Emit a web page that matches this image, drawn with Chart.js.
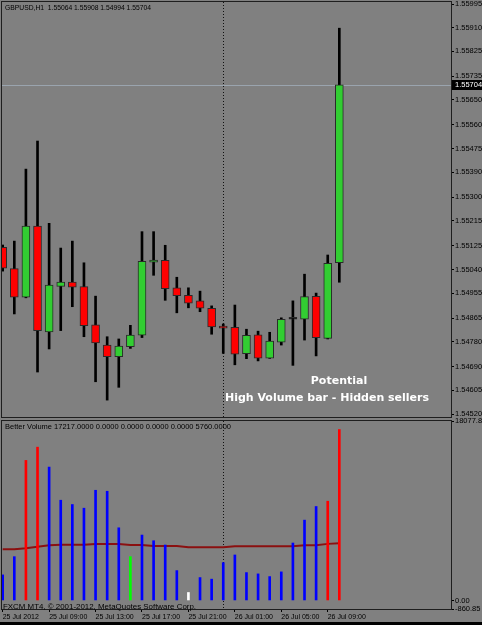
<!DOCTYPE html>
<html>
<head>
<meta charset="utf-8">
<script src="https://cdn.jsdelivr.net/npm/chart.js@4.4.1/dist/chart.umd.min.js"></script>
<style>
  html, body { margin: 0; padding: 0; background: #000; }
  #wrap { position: relative; width: 482px; height: 625px; background: #000; overflow: hidden; }
  #bg { position: absolute; left: 0; top: 0; width: 482px; height: 622px; background: #808080; }
  #priceBox { position: absolute; left: 0; top: 0; width: 482px; height: 419px; }
  #volBox { position: absolute; left: 0; top: 412px; width: 482px; height: 213px; }
</style>
</head>
<body>
<div id="wrap">
  <div id="bg"></div>
  <div id="priceBox"><canvas id="priceChart"></canvas></div>
  <div id="volBox"><canvas id="volumeChart"></canvas></div>
</div>
<script>
// ---- data (GBPUSD H1, 25 Jul 05:00 -> 26 Jul 10:00) ----
const symbol = "GBPUSD,H1";
const opens  = [1.55120, 1.55043, 1.54940, 1.55196, 1.54815, 1.54979, 1.54995, 1.54978, 1.54841, 1.54768,
                1.54726, 1.54762, 1.54804, 1.55066, 1.55073, 1.54974, 1.54947, 1.54927, 1.54900, 1.54831,
                1.54832, 1.54737, 1.54805, 1.54721, 1.54778, 1.54861, 1.54861, 1.54943, 1.54792, 1.55064];
const highs  = [1.55128, 1.55142, 1.55401, 1.55502, 1.55206, 1.55117, 1.55142, 1.55064, 1.54944, 1.54798,
                1.54790, 1.54839, 1.55176, 1.55176, 1.55127, 1.55012, 1.54974, 1.54962, 1.54909, 1.54844,
                1.54912, 1.54825, 1.54818, 1.54814, 1.54866, 1.54927, 1.55023, 1.54955, 1.55092, 1.55908];
const lows   = [1.55034, 1.54880, 1.54938, 1.54671, 1.54754, 1.54820, 1.54906, 1.54798, 1.54636, 1.54570,
                1.54616, 1.54756, 1.54795, 1.55019, 1.54929, 1.54884, 1.54902, 1.54888, 1.54807, 1.54738,
                1.54697, 1.54719, 1.54711, 1.54720, 1.54768, 1.54695, 1.54786, 1.54729, 1.54790, 1.54994];
const closes = [1.55045, 1.54940, 1.55196, 1.54820, 1.54984, 1.54995, 1.54976, 1.54838, 1.54776, 1.54726,
                1.54764, 1.54804, 1.55069, 1.55074, 1.54971, 1.54946, 1.54919, 1.54901, 1.54833, 1.54829,
                1.54735, 1.54803, 1.54721, 1.54782, 1.54861, 1.54861, 1.54942, 1.54795, 1.55062, 1.55704];

const volumes  = [2577, 4412, 14108, 15442, 13436, 10097, 9666, 9295, 11100, 11000,
                  7320, 4412, 6588, 6016, 5585, 3008, 802, 2306, 2146, 3810,
                  4582, 2808, 2677, 2406, 2878, 5786, 8092, 9466, 9997, 17217];
const volTypes = ["normal", "normal", "climax", "climax", "normal", "normal", "normal", "normal", "normal", "normal",
                  "normal", "churn", "normal", "normal", "normal", "normal", "low", "normal", "normal", "normal",
                  "normal", "normal", "normal", "normal", "normal", "normal", "normal", "normal", "climax", "climax"];
const volAverage = [5154, 5154, 5254, 5415, 5555, 5610, 5610, 5620, 5685, 5685,
                    5685, 5585, 5585, 5485, 5485, 5485, 5354, 5354, 5354, 5354,
                    5455, 5455, 5455, 5455, 5455, 5455, 5555, 5555, 5700, 5760];

const priceTicks  = [1.54520, 1.54605, 1.54690, 1.54780, 1.54865, 1.54955, 1.55040, 1.55125, 1.55215,
                     1.55300, 1.55390, 1.55475, 1.55560, 1.55650, 1.55735, 1.55825, 1.55910, 1.55995];
const volumeTicks = [-860.85, 0, 18077.85];
const timeTickBars = [0, 4, 8, 12, 16, 20, 24, 28];
const timeLabels   = ["25 Jul 2012", "25 Jul 09:00", "25 Jul 13:00", "25 Jul 17:00",
                      "25 Jul 21:00", "26 Jul 01:00", "26 Jul 05:00", "26 Jul 09:00"];
const daySeparatorBar = 19;

// ---- global style ----
Chart.defaults.font.family = "'Liberation Sans', Arial, sans-serif";
Chart.defaults.color = "#000";

const X_MIN = -0.06, X_MAX = 38.62;
const FRAME = "#1e1e1e";
const volColors = { normal: "#0000ff", climax: "#ff0000", churn: "#00ff00", low: "#ffffff" };

function fitText(ctx, text, x, y, w) {
    const m = ctx.measureText(text).width;
    ctx.save();
    ctx.translate(x, y);
    ctx.scale(w / m, 1);
    ctx.fillText(text, 0, 0);
    ctx.restore();
}

function noPad(scale) {
    scale.paddingTop = 0; scale.paddingBottom = 0;
    scale.paddingLeft = 0; scale.paddingRight = 0;
}

function drawFrame(chart) {
    const { ctx, chartArea: a } = chart;
    ctx.save();
    ctx.strokeStyle = FRAME;
    ctx.lineWidth = 1;
    ctx.strokeRect(a.left - 0.5, a.top - 0.5, a.right - a.left + 1, a.bottom - a.top + 1);
    ctx.restore();
}

function drawSeparator(chart) {
    const { ctx, chartArea: a } = chart;
    const sx = Math.round(chart.scales.x.getPixelForValue(daySeparatorBar)) + 0.5;
    ctx.save();
    ctx.strokeStyle = "#111";
    ctx.lineWidth = 1;
    ctx.setLineDash([1, 2]);
    ctx.beginPath();
    ctx.moveTo(sx, a.top);
    ctx.lineTo(sx, a.bottom);
    ctx.stroke();
    ctx.restore();
}

// ---- Price chart (candles from floating bars) ----
const last = closes.length - 1;
const bodyColors = opens.map((o, i) => closes[i] > o ? "#32cd32" : (closes[i] < o ? "#ff0000" : "#000000"));

const pricePlugin = {
    id: "priceDecor",
    beforeDatasetsDraw(chart) {
        const { ctx, chartArea: a, scales: { y } } = chart;
        const py = Math.round(y.getPixelForValue(closes[last])) + 0.5;
        ctx.save();
        ctx.strokeStyle = "#9aa4ae";
        ctx.lineWidth = 1;
        ctx.beginPath();
        ctx.moveTo(a.left, py);
        ctx.lineTo(a.right, py);
        ctx.stroke();
        ctx.restore();
        drawSeparator(chart);
    },
    afterDraw(chart) {
        const { ctx, chartArea: a, scales: { y } } = chart;
        drawFrame(chart);
        ctx.save();
        // header
        ctx.fillStyle = "#000";
        ctx.font = "8px 'Liberation Sans'";
        ctx.textBaseline = "alphabetic";
        const head = symbol + "  " + [opens[last], highs[last], lows[last], closes[last]].map(v => v.toFixed(5)).join(" ");
        fitText(ctx, head, a.left + 3, 10, 146);
        // current price box
        const py = Math.round(y.getPixelForValue(closes[last]));
        ctx.fillStyle = "#000";
        ctx.fillRect(a.right + 1, py - 5, 31, 10);
        ctx.fillStyle = "#fff";
        ctx.font = "7.5px 'Liberation Sans'";
        ctx.textBaseline = "middle";
        ctx.fillText(closes[last].toFixed(5), a.right + 4, py);
        // annotation
        ctx.fillStyle = "#fff";
        ctx.font = "bold 11px 'DejaVu Sans'";
        ctx.textAlign = "center";
        ctx.textBaseline = "alphabetic";
        ctx.fillText("Potential", 339, 384);
        ctx.fillText("High Volume bar - Hidden sellers", 327, 401);
        ctx.restore();
    }
};

new Chart(document.getElementById("priceChart"), {
    type: "bar",
    data: {
        datasets: [
            {
                label: "body",
                order: 0,
                data: opens.map((o, i) => ({ x: i, y: [Math.min(o, closes[i]), Math.max(o, closes[i])] })),
                backgroundColor: bodyColors,
                borderColor: "#2a2a2a",
                borderWidth: 1,
                borderSkipped: false,
                barThickness: 8,
                minBarLength: 2,
                grouped: false,
                clip: 0
            },
            {
                label: "wick",
                order: 1,
                data: lows.map((l, i) => ({ x: i, y: [l, highs[i]] })),
                backgroundColor: "#000",
                barThickness: 2,
                grouped: false,
                clip: 0
            }
        ]
    },
    options: {
        responsive: true,
        maintainAspectRatio: false,
        animation: false,
        devicePixelRatio: 1,
        layout: { padding: { left: 2, top: 2, bottom: 2, right: 0 } },
        plugins: { legend: { display: false }, tooltip: { enabled: false } },
        scales: {
            x: {
                type: "linear", min: X_MIN, max: X_MAX, offset: false,
                afterFit: s => { s.height = 0; noPad(s); },
                ticks: { display: false },
                grid: { display: false, offset: false },
                border: { display: false }
            },
            y: {
                type: "linear",
                position: "right",
                min: 1.5450921,
                max: 1.5600220,
                afterBuildTicks: s => { s.ticks = priceTicks.map(v => ({ value: v })); },
                afterFit: s => { s.width = 31; noPad(s); },
                ticks: { font: { size: 7.5 }, color: "#000", padding: 1, callback: v => Number(v).toFixed(5) },
                grid: { drawOnChartArea: false, drawTicks: true, tickLength: 3, color: "#000" },
                border: { display: true, color: FRAME }
            }
        }
    },
    plugins: [pricePlugin]
});

// ---- Better Volume chart ----
const volPlugin = {
    id: "volDecor",
    beforeDatasetsDraw(chart) { drawSeparator(chart); },
    afterDraw(chart) {
        const { ctx, chartArea: a } = chart;
        drawFrame(chart);
        ctx.save();
        ctx.fillStyle = "#000";
        ctx.font = "8px 'Liberation Sans'";
        ctx.textBaseline = "alphabetic";
        const head = "Better Volume " + [volumes[last], 0, 0, 0, 0, volAverage[last]].map(v => v.toFixed(4)).join(" ");
        fitText(ctx, head, a.left + 3, a.top + 8, 226);
        fitText(ctx, "FXCM MT4, \u00a9 2001-2012, MetaQuotes Software Corp.", a.left + 1, a.bottom, 193);
        ctx.restore();
    }
};

new Chart(document.getElementById("volumeChart"), {
    type: "bar",
    data: {
        datasets: [
            {
                type: "bar",
                label: "volume",
                order: 0,
                data: volumes.map((v, i) => ({ x: i, y: v })),
                backgroundColor: volTypes.map(t => volColors[t]),
                barThickness: 2,
                grouped: false,
                clip: 0
            },
            {
                type: "line",
                label: "average",
                order: 1,
                data: volAverage.map((v, i) => ({ x: i, y: v })),
                borderColor: "#8b1010",
                borderWidth: 2,
                pointRadius: 0,
                tension: 0,
                clip: 0
            }
        ]
    },
    options: {
        responsive: true,
        maintainAspectRatio: false,
        animation: false,
        devicePixelRatio: 1,
        layout: { padding: { left: 2, top: 9, bottom: 0, right: 0 } },
        plugins: { legend: { display: false }, tooltip: { enabled: false } },
        scales: {
            x: {
                type: "linear",
                min: X_MIN,
                max: X_MAX,
                offset: false,
                afterBuildTicks: s => { s.ticks = timeTickBars.map(v => ({ value: v })); },
                afterFit: s => { s.height = 16; noPad(s); },
                ticks: {
                    autoSkip: false, maxRotation: 0, minRotation: 0, align: "start",
                    font: { size: 7 }, color: "#000", padding: 1,
                    callback: v => timeLabels[timeTickBars.indexOf(v)]
                },
                grid: { offset: false, drawOnChartArea: false, drawTicks: true, tickLength: 3, color: "#000" },
                border: { display: true, color: FRAME }
            },
            y: {
                type: "linear",
                position: "right",
                min: -860.85,
                max: 18077.85,
                afterBuildTicks: s => { s.ticks = volumeTicks.map(v => ({ value: v })); },
                afterFit: s => { s.width = 31; noPad(s); },
                ticks: { font: { size: 7.5 }, color: "#000", padding: 1, callback: v => Number(v).toFixed(2) },
                grid: { drawOnChartArea: false, drawTicks: true, tickLength: 3, color: "#000" },
                border: { display: true, color: FRAME }
            }
        }
    },
    plugins: [volPlugin]
});
</script>
</body>
</html>
